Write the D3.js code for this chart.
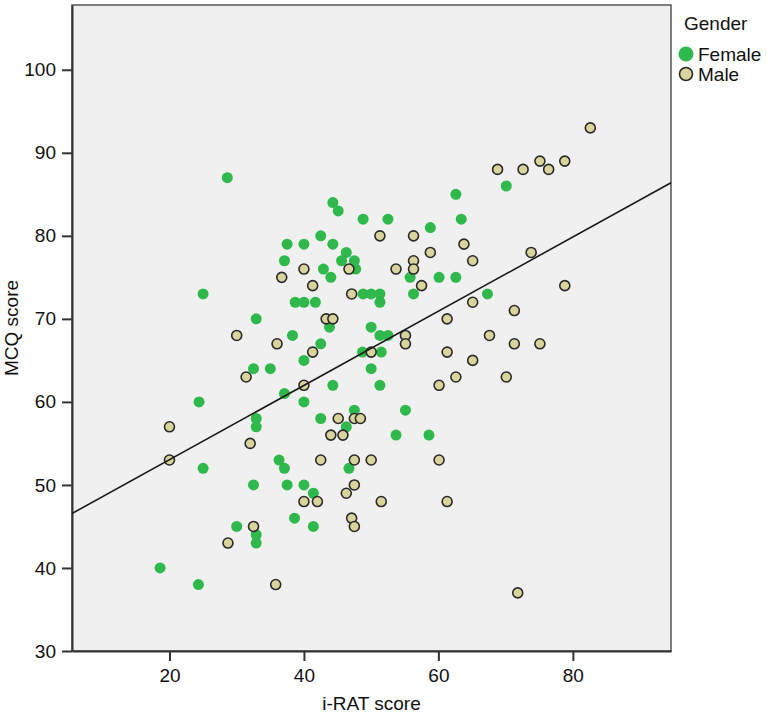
<!DOCTYPE html>
<html>
<head>
<meta charset="utf-8">
<script src="https://cdn.jsdelivr.net/npm/d3@7"></script>
<style>
  body { margin: 0; background: #fff; }
  svg { display: block; font-family: "Liberation Sans", Arial, Helvetica, sans-serif; }
</style>
</head>
<body>
<div id="chart"></div>
<script>
// i-RAT vs MCQ scatter, by gender
(function () {
  ///////////////////////////////////////////////////////////// ! Data
  // [i-RAT score, MCQ score]
  const female = [
    [28.6, 87], [44.3, 84], [45.1, 83], [48.8, 82], [52.5, 82], [42.5, 80],
    [37.5, 79], [40.0, 79], [44.3, 79], [46.3, 78], [37.1, 77], [45.6, 77],
    [47.5, 77], [42.9, 76], [47.7, 76], [44.0, 75], [25.0, 73], [48.8, 73],
    [50.0, 73], [51.3, 73], [38.7, 72], [40.0, 72], [41.7, 72], [51.3, 72],
    [43.8, 69], [32.9, 70], [38.3, 68], [42.5, 67], [50.0, 69], [51.3, 68],
    [52.5, 68], [40.0, 65], [48.7, 66], [51.5, 66], [32.5, 64], [35.0, 64],
    [50.0, 64], [44.3, 62], [51.3, 62], [37.1, 61], [24.4, 60], [40.0, 60],
    [47.5, 59], [32.9, 58], [32.9, 57], [42.5, 58], [46.3, 57], [53.7, 56],
    [36.3, 53], [37.1, 52], [25.0, 52], [46.7, 52], [32.5, 50], [37.5, 50],
    [40.0, 50], [41.4, 49], [38.6, 46], [41.4, 45], [30.0, 45], [32.9, 44],
    [32.9, 43], [18.6, 40], [24.3, 38], [70.1, 86], [62.6, 85], [63.4, 82],
    [58.8, 81], [55.8, 75], [60.1, 75], [62.6, 75], [56.3, 73], [67.3, 73],
    [55.1, 59], [58.6, 56]
  ];

  const male = [
    [51.3, 80], [40.0, 76], [46.7, 76], [53.7, 76], [36.7, 75], [41.3, 74],
    [47.1, 73], [43.3, 70], [44.3, 70], [30.0, 68], [36.0, 67], [41.3, 66],
    [50.0, 66], [31.4, 63], [40.0, 62], [20.0, 57], [45.1, 58], [47.5, 58],
    [48.4, 58], [44.0, 56], [45.8, 56], [32.0, 55], [20.0, 53], [42.5, 53],
    [47.5, 53], [50.0, 53], [47.5, 50], [46.3, 49], [40.0, 48], [42.0, 48],
    [51.5, 48], [47.1, 46], [47.5, 45], [32.5, 45], [28.7, 43], [35.8, 38],
    [82.6, 93], [68.8, 88], [72.6, 88], [75.1, 89], [76.4, 88], [78.8, 89],
    [56.3, 80], [63.8, 79], [58.8, 78], [73.8, 78], [56.3, 77], [65.1, 77],
    [56.3, 76], [57.5, 74], [78.8, 74], [65.1, 72], [71.3, 71], [61.3, 70],
    [55.1, 68], [55.1, 67], [67.6, 68], [71.3, 67], [75.1, 67], [61.3, 66],
    [65.1, 65], [62.6, 63], [70.1, 63], [60.1, 62], [60.1, 53], [61.3, 48],
    [71.8, 37]
  ];

  const xTicks = [20, 40, 60, 80];
  const yTicks = [30, 40, 50, 60, 70, 80, 90, 100];
  const xDomain = [5.5, 94.6];
  const yDomain = [30, 107.8];

  // Fit line: MCQ = intercept + slope * iRAT
  const fitIntercept = 44.1;
  const fitSlope = 0.447;

  const legendItems = ["Female", "Male"];

  ///////////////////////////////////////////////////////////// ! Setup
  const W = 767, H = 720;
  const plot = { left: 72, right: 671, top: 5, bottom: 651 };
  const colors = { Female: "#2fb84c", Male: "#d9d39c" };

  const svg = d3.select("#chart").append("svg")
    .attr("width", W).attr("height", H);

  const x = d3.scaleLinear().domain(xDomain).range([plot.left, plot.right]);
  const y = d3.scaleLinear().domain(yDomain).range([plot.bottom, plot.top]);

  // Plot background
  svg.append("rect")
    .attr("x", plot.left).attr("y", plot.top)
    .attr("width", plot.right - plot.left)
    .attr("height", plot.bottom - plot.top)
    .attr("fill", "#f0f0f0")
    .attr("stroke", "#555").attr("stroke-width", 1.5);

  ///////////////////////////////////////////////////////////// ! Axes
  const xAxis = svg.append("g")
    .attr("transform", `translate(0,${plot.bottom})`)
    .call(d3.axisBottom(x).tickValues(xTicks).tickSize(10).tickSizeOuter(0).tickPadding(8));
  const yAxis = svg.append("g")
    .attr("transform", `translate(${plot.left},0)`)
    .call(d3.axisLeft(y).tickValues(yTicks).tickSize(10).tickSizeOuter(0).tickPadding(6));

  [xAxis, yAxis].forEach((g) => {
    g.select(".domain").attr("stroke", "#333").attr("stroke-width", 2);
    g.selectAll(".tick line").attr("stroke", "#333").attr("stroke-width", 2);
    g.selectAll(".tick text")
      .attr("fill", "#111")
      .style("font-size", "19px")
      .style("font-family", "'Liberation Sans', Arial, sans-serif");
  });

  // Axis titles
  svg.append("text")
    .attr("x", (plot.left + plot.right) / 2)
    .attr("y", 710)
    .attr("text-anchor", "middle")
    .style("font-size", "19px")
    .attr("fill", "#111")
    .text("i-RAT score");

  svg.append("text")
    .attr("transform", `translate(18,${(plot.top + plot.bottom) / 2}) rotate(-90)`)
    .attr("text-anchor", "middle")
    .style("font-size", "19px")
    .attr("fill", "#111")
    .text("MCQ score");

  ///////////////////////////////////////////////////////////// ! Points
  const pts = svg.append("g");

  pts.selectAll(".f").data(female).enter().append("circle")
    .attr("class", "f")
    .attr("cx", (d) => x(d[0]))
    .attr("cy", (d) => y(d[1]))
    .attr("r", 5.5)
    .attr("fill", colors.Female);

  pts.selectAll(".m").data(male).enter().append("circle")
    .attr("class", "m")
    .attr("cx", (d) => x(d[0]))
    .attr("cy", (d) => y(d[1]))
    .attr("r", 5)
    .attr("fill", colors.Male)
    .attr("stroke", "#2a2a2a")
    .attr("stroke-width", 1.6);

  ///////////////////////////////////////////////////////////// ! Fit line
  svg.append("line")
    .attr("x1", x(xDomain[0])).attr("y1", y(fitIntercept + fitSlope * xDomain[0]))
    .attr("x2", x(xDomain[1])).attr("y2", y(fitIntercept + fitSlope * xDomain[1]))
    .attr("stroke", "#1a1a1a")
    .attr("stroke-width", 1.6);

  ///////////////////////////////////////////////////////////// ! Legend
  const legend = svg.append("g").attr("transform", "translate(683,0)");
  legend.append("text")
    .attr("x", 1).attr("y", 30)
    .style("font-size", "19px")
    .attr("fill", "#111")
    .text("Gender");

  legendItems.forEach((name, i) => {
    const cy = 54 + i * 20;
    legend.append("circle")
      .attr("cx", 3).attr("cy", cy)
      .attr("r", name === "Female" ? 7.5 : 6.5)
      .attr("fill", colors[name])
      .attr("stroke", name === "Male" ? "#2a2a2a" : "none")
      .attr("stroke-width", 1.6);
    legend.append("text")
      .attr("x", 15).attr("y", cy + 7)
      .style("font-size", "19px")
      .attr("fill", "#111")
      .text(name);
  });
})();
</script>
</body>
</html>
